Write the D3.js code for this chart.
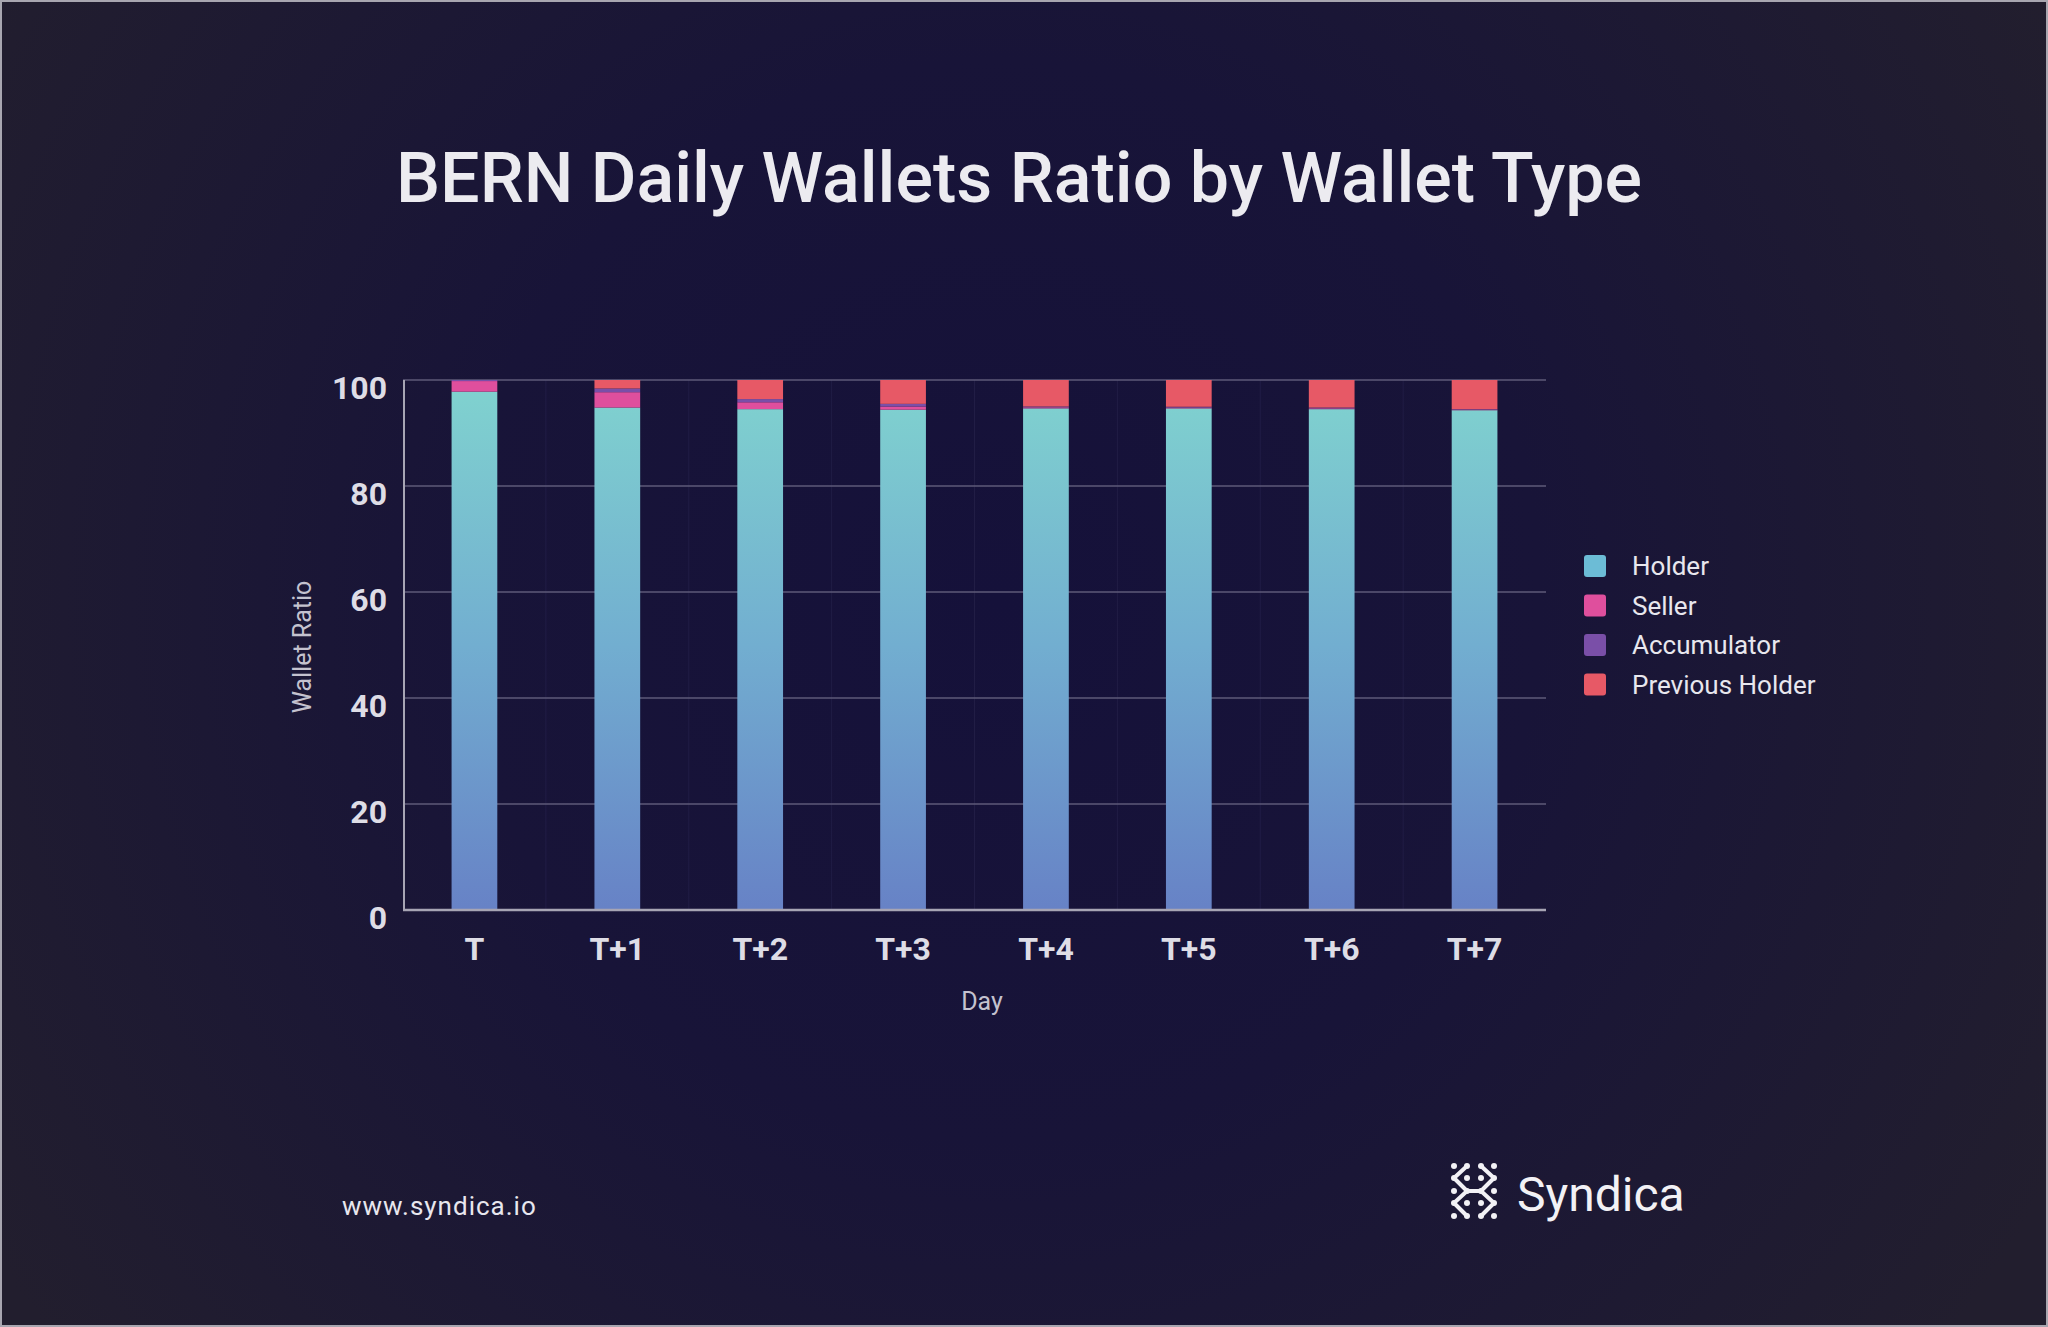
<!DOCTYPE html>
<html><head><meta charset="utf-8">
<script src="https://cdn.jsdelivr.net/npm/d3@7"></script>
<style>html,body{margin:0;padding:0;background:#1c1830;}svg{display:block;}</style>
</head><body>
<svg id="c" width="2048" height="1327"></svg>
<script>
const days = ["T","T+1","T+2","T+3","T+4","T+5","T+6","T+7"];
const seriesNames = ["Holder","Seller","Accumulator","Previous Holder"];
const holder      = [97.8, 94.8, 94.5, 94.4, 94.65, 94.65, 94.5, 94.3];
const seller      = [2.0, 2.9, 1.3, 0.6, 0.2, 0.15, 0.15, 0.1];
const accumulator = [0.2, 0.7, 0.6, 0.5, 0.15, 0.15, 0.15, 0.1];
const prevHolder  = [0.0, 1.6, 3.6, 4.5, 5.0, 5.05, 5.2, 5.5];
const yTicks = [0,20,40,60,80,100];

const W=2048,H=1327;
const svg=d3.select("#c");
const defs=svg.append("defs");
const bg=defs.append("radialGradient").attr("id","bg").attr("gradientUnits","userSpaceOnUse")
  .attr("cx",1000).attr("cy",600).attr("r",1200);
bg.append("stop").attr("offset",0).attr("stop-color","#15113a");
bg.append("stop").attr("offset",0.45).attr("stop-color","#181438");
bg.append("stop").attr("offset",1).attr("stop-color","#221e2e");
svg.append("rect").attr("width",W).attr("height",H).attr("fill","url(#bg)");
svg.append("rect").attr("x",1).attr("y",1).attr("width",W-2).attr("height",H-2)
  .attr("fill","none").attr("stroke","#a8a6b0").attr("stroke-width",2);

const x=d3.scaleBand().domain(days).range([403,1546]).paddingInner(0.68).paddingOuter(0.34);
const y=d3.scaleLinear().domain([0,100]).range([910,380]);

const hg=defs.append("linearGradient").attr("id","hg").attr("gradientUnits","userSpaceOnUse")
  .attr("x1",0).attr("x2",0).attr("y1",y(100)).attr("y2",y(0));
hg.append("stop").attr("offset",0).attr("stop-color","#80d3cf");
hg.append("stop").attr("offset",0.5).attr("stop-color","#72aed0");
hg.append("stop").attr("offset",1).attr("stop-color","#6782c6");

const colors={"Holder":"url(#hg)","Seller":"#df4f9d","Accumulator":"#7a4fa8","Previous Holder":"#e75966"};
const legendColors={"Holder":"#6cbcd6","Seller":"#df4f9d","Accumulator":"#7a4fa8","Previous Holder":"#e75966"};

// title
svg.append("text").attr("x",1019).attr("y",202).attr("text-anchor","middle")
  .attr("font-family","Roboto").attr("font-weight",500).attr("font-size",70)
  .attr("fill","#ecebf0").text("BERN Daily Wallets Ratio by Wallet Type");

// very faint vertical gridlines at band boundaries
svg.append("g").selectAll("line").data(days.slice(1)).join("line")
  .attr("x1",d=>x(d)-(x.step()-x.bandwidth())/2).attr("x2",d=>x(d)-(x.step()-x.bandwidth())/2)
  .attr("y1",y(100)).attr("y2",y(0)).attr("stroke","#211d45").attr("stroke-width",1);

// horizontal gridlines
svg.append("g").selectAll("line").data(yTicks.filter(t=>t>0)).join("line")
  .attr("x1",403).attr("x2",1546).attr("y1",d=>y(d)).attr("y2",d=>y(d))
  .attr("stroke","#5e5a78").attr("stroke-width",1.5);

// bars
const data=days.map((d,i)=>({day:d,"Holder":holder[i],"Seller":seller[i],"Accumulator":accumulator[i],"Previous Holder":prevHolder[i]}));
const stack=d3.stack().keys(seriesNames)(data);
svg.append("g").selectAll("g").data(stack).join("g").attr("fill",s=>colors[s.key])
  .selectAll("rect").data(s=>s).join("rect")
  .attr("x",d=>x(d.data.day)).attr("width",x.bandwidth())
  .attr("y",d=>y(d[1])).attr("height",d=>Math.max(0,y(d[0])-y(d[1])));

// axes lines
svg.append("line").attr("x1",404).attr("x2",404).attr("y1",y(100)).attr("y2",y(0)+1)
  .attr("stroke","#a7a5b4").attr("stroke-width",2);
svg.append("line").attr("x1",403).attr("x2",1546).attr("y1",y(0)).attr("y2",y(0))
  .attr("stroke","#a7a5b4").attr("stroke-width",2.5);

// y tick labels
const yAxis=d3.axisLeft(y).tickValues(yTicks).tickSize(0).tickPadding(0);
const ya=svg.append("g").attr("transform","translate(387,8)").call(yAxis);
ya.select(".domain").remove();
ya.selectAll("text").attr("font-family","Roboto").attr("font-weight",700).attr("font-size",32)
  .attr("fill","#dedde6");

// x tick labels
const xAxis=d3.axisBottom(x).tickSize(0).tickPadding(0);
const xa=svg.append("g").attr("transform","translate(0,937)").call(xAxis);
xa.select(".domain").remove();
xa.selectAll("text").attr("font-family","Roboto").attr("font-weight",700).attr("font-size",32)
  .attr("fill","#dedde6");

// axis titles
svg.append("text").attr("x",982).attr("y",1010).attr("text-anchor","middle")
  .attr("font-family","Roboto").attr("font-size",25).attr("fill","#c4c2cf").text("Day");
svg.append("text").attr("transform","translate(311,647) rotate(-90)").attr("text-anchor","middle")
  .attr("font-family","Roboto").attr("font-size",25).attr("fill","#c4c2cf").text("Wallet Ratio");

// legend
const lg=svg.append("g").selectAll("g").data(seriesNames).join("g")
  .attr("transform",(d,i)=>`translate(1584,${566+i*39.5})`);
lg.append("rect").attr("x",0).attr("y",-11).attr("width",22).attr("height",22).attr("rx",3)
  .attr("fill",d=>legendColors[d]);
lg.append("text").attr("x",48).attr("y",9).attr("font-family","Roboto").attr("font-size",26)
  .attr("fill","#e8e7ee").text(d=>d);

// footer
svg.append("text").attr("x",342).attr("y",1215).attr("font-family","Roboto").attr("font-size",26)
  .attr("letter-spacing",1).attr("fill","#e8e7ee").text("www.syndica.io");
svg.append("text").attr("x",1517).attr("y",1211).attr("font-family","Roboto").attr("font-size",48)
  .attr("fill","#f2f1f5").text("Syndica");

// logo icon
const logo=svg.append("g").attr("transform","translate(1450,1162)").attr("fill","#f2f1f5").attr("stroke","#f2f1f5");
const dotCols=[4,17,31,44], dotRows=[4,16,29,41,54];
const dots=[];
dotRows.forEach(r=>dotCols.forEach(c=>dots.push([c,r])));
logo.selectAll("circle").data(dots).join("circle").attr("cx",d=>d[0]).attr("cy",d=>d[1]).attr("r",3).attr("stroke","none");
const links=[[[4,16],[17,4]],[[4,16],[17,29]],[[31,4],[44,16]],[[44,16],[31,29]],[[17,29],[31,29]],[[4,41],[17,29]],[[4,41],[17,54]],[[31,29],[44,41]],[[44,41],[31,54]]];
logo.selectAll("line").data(links).join("line")
  .attr("x1",d=>d[0][0]).attr("y1",d=>d[0][1]).attr("x2",d=>d[1][0]).attr("y2",d=>d[1][1])
  .attr("stroke-width",4).attr("stroke-linecap","round");
</script>
</body></html>
